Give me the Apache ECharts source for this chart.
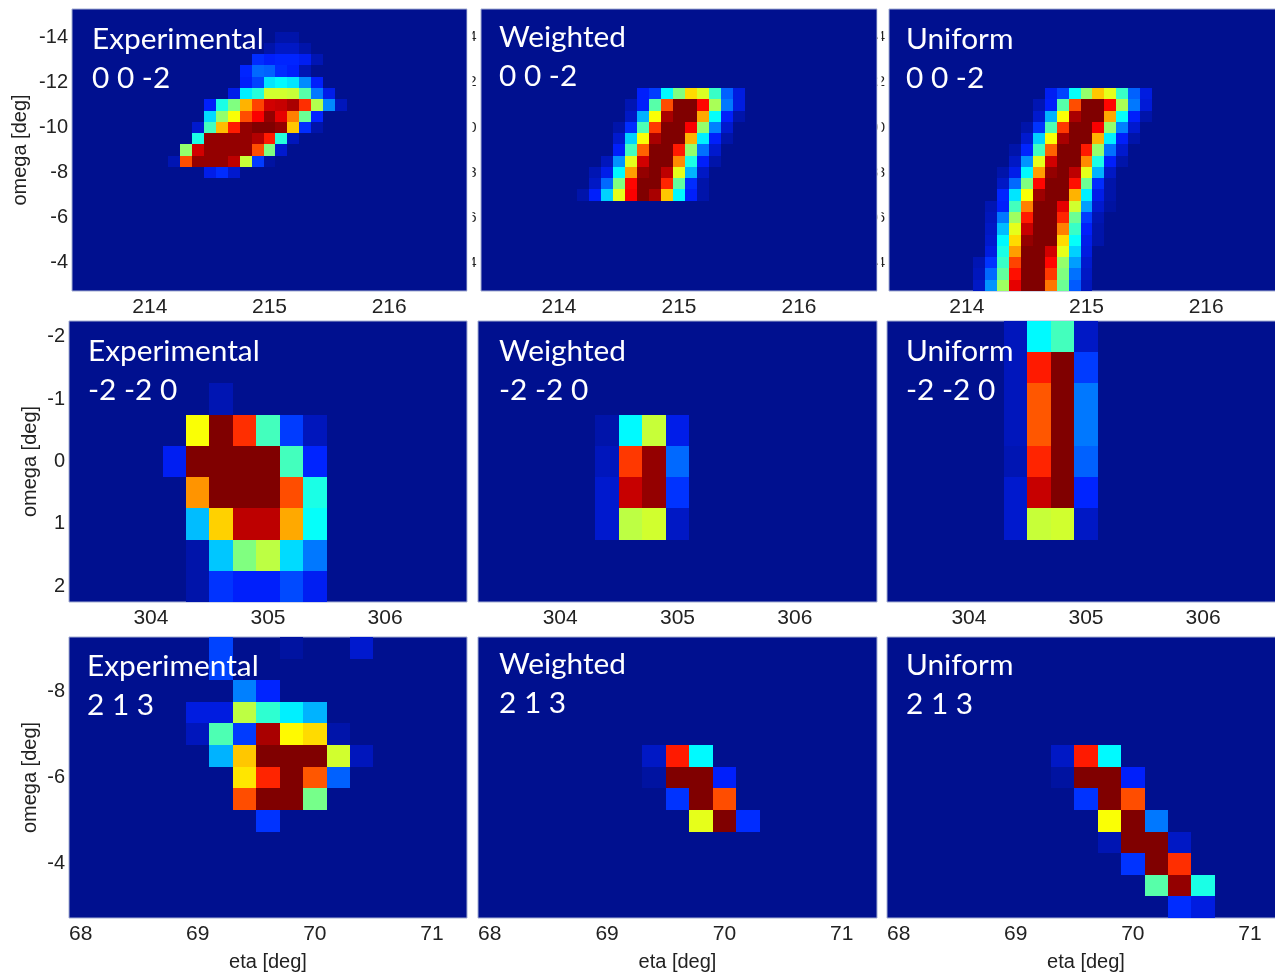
<!DOCTYPE html>
<html><head><meta charset="utf-8">
<style>html,body{margin:0;padding:0;background:#fff;overflow:hidden}#c{width:1275px;height:974px}</style>
<script src="https://cdn.jsdelivr.net/npm/echarts@6/dist/echarts.min.js"></script>
</head><body><div id="c"></div>
<script>
// Each row: [omega, first eta, intensity (0-100) of consecutive cells...]
const exp002 = [
 [-14,215.1,3,3],[-13.5,215.0,3,6,6,3],[-13,214.9,14,12,13,13,11,4],[-12.5,214.8,13,22,21,14,12,4],
 [-12,214.8,12,17,35,37,35,26,12],[-11.5,214.7,10,36,41,58,58,57,46,24,10],
 [-11,214.5,12,40,50,70,81,92,93,96,83,55,26,5],[-10.5,214.5,34,52,62,80,88,98,90,75,48,13],
 [-10,214.4,7,44,69,85,98,100,100,98,68,14,3],[-9.5,214.4,40,98,98,98,98,95,85,41,5],
 [-9,214.3,52,92,98,98,98,98,80,50,7],[-8.5,214.2,4,80,98,98,98,94,57,16,2],[-8,214.5,10,14,7]
];
const wei002 = [
 [-11.5,214.7,12,16,37,50,66,59,43,21,9],[-11,214.6,4,12,46,80,100,100,87,54,24,9],
 [-10.5,214.6,6,30,62,96,100,100,71,38,12,3],[-10,214.5,3,14,45,82,100,100,88,52,25,7],
 [-9.5,214.5,7,33,62,96,100,100,70,36,12,3],[-9,214.5,12,44,78,100,100,85,52,23,7],
 [-8.5,214.4,5,27,60,92,100,100,74,40,12,3],[-8,214.3,4,10,37,72,98,100,94,60,30,6],
 [-7.5,214.3,6,22,50,87,100,100,84,47,14,3],[-7,214.2,3,12,33,60,88,100,96,68,37,12,3]
];
const uni002 = [
 [-11.5,214.7,11,17,38,52,68,60,43,21,9],[-11,214.6,4,12,46,80,100,100,87,54,24,8],
 [-10.5,214.6,7,30,62,96,100,100,71,38,12,3],[-10,214.5,3,15,45,82,100,100,88,52,25,7],
 [-9.5,214.5,7,33,62,96,100,100,70,36,12,3],[-9,214.4,3,13,44,78,100,100,85,52,23,7],
 [-8.5,214.4,6,27,60,92,100,100,74,40,12,3],[-8,214.3,3,10,37,72,98,100,94,60,30,6],
 [-7.5,214.3,6,22,50,87,100,100,86,48,14,3],[-7,214.3,13,35,62,97,100,100,70,36,10,3],
 [-6.5,214.2,4,12,44,75,100,100,90,58,28,7,2],[-6,214.2,5,24,53,85,100,100,84,48,16,4],
 [-5.5,214.2,6,31,60,93,100,100,75,43,12,3],[-5,214.2,7,37,66,98,100,100,66,38,10,3],
 [-4.5,214.2,9,40,72,100,100,92,60,33,9],[-4,214.1,4,15,43,81,100,100,87,52,28,7],
 [-3.5,214.1,5,22,47,86,100,100,82,50,23,6],[-3,214.1,6,27,53,90,100,100,76,48,20,5]
];
const exp220 = [
 [-1,304.6,4],[-0.5,304.4,62,100,83,44,16,5],[0,304.2,11,100,100,100,100,44,13],
 [0.5,304.4,73,100,100,100,80,40],[1,304.4,31,67,94,94,71,38],[1.5,304.4,3,32,50,56,34,24],[2,304.4,3,15,12,12,18,11]
];
const wei220 = [
 [-0.5,304.4,3,37,57,10],[0,304.4,5,82,98,22],[0.5,304.4,7,93,98,15],[1,304.4,7,56,58,6]
];
const uni220 = [
 [-2,304.4,5,37,44,6],[-1.5,304.4,5,85,100,16],[-1,304.4,5,79,100,24],[-0.5,304.4,5,79,100,24],
 [0,304.4,4,84,100,21],[0.5,304.4,7,93,100,13],[1,304.4,7,57,58,6]
];
const exp213 = [
 [-9,69.2,17],[-9,69.8,2],[-9,70.4,7],[-8.5,69.2,17],[-8,69.4,25,13],[-7.5,69.0,9,9,56,42,36,30],
 [-7,69.0,5,45,16,96,63,66,3],[-6.5,69.2,30,68,100,100,100,58,5],[-6,69.4,65,84,100,79,21],
 [-5.5,69.4,80,100,100,49],[-5,69.6,15]
];
const wei213 = [
 [-6.5,69.4,6,85,37],[-6,69.4,2,100,100,12],[-5.5,69.6,15,100,80],[-5,69.8,60,100,14]
];
const uni213 = [
 [-6.5,69.4,6,85,37],[-6,69.4,2,100,100,12],[-5.5,69.6,15,100,80],[-5,69.8,62,100,24],
 [-4.5,69.8,4,100,100,6],[-4,70.0,15,100,83],[-3.5,70.2,46,98,40],[-3,70.4,14,9]
];

const etaTicks = [[214,215,216],[304,305,306],[68,69,70,71]];
const omegaTicks = [[-14,-12,-10,-8,-6,-4],[-2,-1,0,1,2],[-8,-6,-4]];
const etaRanges = [[213.35,216.65],[303.3,306.7],[67.9,71.3]];
const omegaRanges = [[-15.25,-2.75],[-2.25,2.25],[-9.25,-2.75]];
const etaSteps = [0.1,0.2,0.2];
const omegaStep = 0.5;
const methodNames = ['Experimental','Weighted','Uniform'];
const reflections = ['0 0 -2','-2 -2 0','2 1 3'];
const panelRows = [[exp002,wei002,uni002],[exp220,wei220,uni220],[exp213,wei213,uni213]];
const jet = ['#00108f','#0020ff','#0080ff','#00ffff','#80ff80','#ffff00','#ff8000','#ff0000','#800000'];

// layout
const gridLefts = [[72,481,889],[69,478,887],[69,478,887]];
const gridWidths = [[395,396,395],[398,399,398],[398,399,398]];
const gridTops = [9,321,637];
const gridHeights = [282,281,281];
const labelLefts = [[92,499,906],[88,499,906],[87,499,906]];
const labelTops = [[20,18,20],[332,332,332],[647,645,646]];
const omegaNameGap = [42,29,29];
const strayLabelMargin = [0,4.5,4];   // cropped tick labels left between the top panels

const grids=[],xAxes=[],yAxes=[],series=[],titles=[];
const font='"Liberation Sans",Arial,sans-serif';
function expand(rows,step){
  const out=[];
  rows.forEach(r=>{for(let k=2;k<r.length;k++)out.push([+(r[1]+(k-2)*step).toFixed(2),r[0],r[k]]);});
  return out;
}
for(let r=0;r<3;r++)for(let c=0;c<3;c++){
  const i=grids.length, step=etaSteps[r];
  grids.push({left:gridLefts[r][c],top:gridTops[r],width:gridWidths[r][c],height:gridHeights[r],
    show:true,backgroundColor:jet[0],borderColor:'#a4aed2',borderWidth:1,containLabel:false,outerBoundsMode:'none'});
  xAxes.push({type:'value',gridIndex:i,min:etaRanges[r][0],max:etaRanges[r][1],
    axisLine:{show:false},axisTick:{show:false},splitLine:{show:false},
    axisLabel:{customValues:etaTicks[r],fontFamily:font,fontSize:21,color:'#222',margin:6,hideOverlap:false},
    name:r===2?'eta [deg]':'',nameLocation:'middle',nameGap:34,
    nameTextStyle:{fontFamily:font,fontSize:20,color:'#222'}});
  let yLabel={show:false};
  if(c===0) yLabel={customValues:omegaTicks[r],fontFamily:font,fontSize:20,color:'#222',margin:4};
  else if(r===0) yLabel={customValues:omegaTicks[r],fontFamily:font,fontSize:15,color:'#222',margin:strayLabelMargin[c],
    formatter:v=>String(Math.abs(v)%10)};
  yAxes.push({type:'value',gridIndex:i,inverse:true,min:omegaRanges[r][0],max:omegaRanges[r][1],
    axisLine:{show:false},axisTick:{show:false},splitLine:{show:false},
    axisLabel:yLabel,
    name:c===0?'omega [deg]':'',nameLocation:'middle',nameRotate:90,nameGap:omegaNameGap[r],
    nameTextStyle:{fontFamily:font,fontSize:20,color:'#222'}});
  series.push({type:'custom',xAxisIndex:i,yAxisIndex:i,coordinateSystem:'cartesian2d',clip:true,
    data:expand(panelRows[r][c],step),encode:{x:0,y:1},silent:true,
    renderItem:(params,api)=>{
      const a=api.coord([api.value(0)-step/2,api.value(1)-omegaStep/2]);
      const b=api.coord([api.value(0)+step/2,api.value(1)+omegaStep/2]);
      const x=Math.round(a[0]),y=Math.round(a[1]);
      return {type:'rect',shape:{x,y,width:Math.round(b[0])-x,height:Math.round(b[1])-y},
        style:{fill:api.visual('color')}};
    }});
  titles.push({text:methodNames[c]+'\n'+reflections[r],left:labelLefts[r][c],top:labelTops[r][c],padding:0,
    textStyle:{fontFamily:'Lato,sans-serif',fontSize:29.8,fontWeight:'normal',color:'#fff',lineHeight:39}});
}
const chart=echarts.init(document.getElementById('c'),null,{renderer:'canvas'});
chart.setOption({animation:false,backgroundColor:'#fff',title:titles,grid:grids,xAxis:xAxes,yAxis:yAxes,series,
  graphic:{elements:[
    {type:'rect',z:100,silent:true,shape:{x:467.5,y:9,width:5,height:282},style:{fill:'#fff'}},
    {type:'rect',z:100,silent:true,shape:{x:877.5,y:9,width:4,height:282},style:{fill:'#fff'}}
  ]},
  visualMap:{show:false,type:'continuous',min:0,max:100,dimension:2,seriesIndex:series.map((s,i)=>i),inRange:{color:jet}}});
</script></body></html>
